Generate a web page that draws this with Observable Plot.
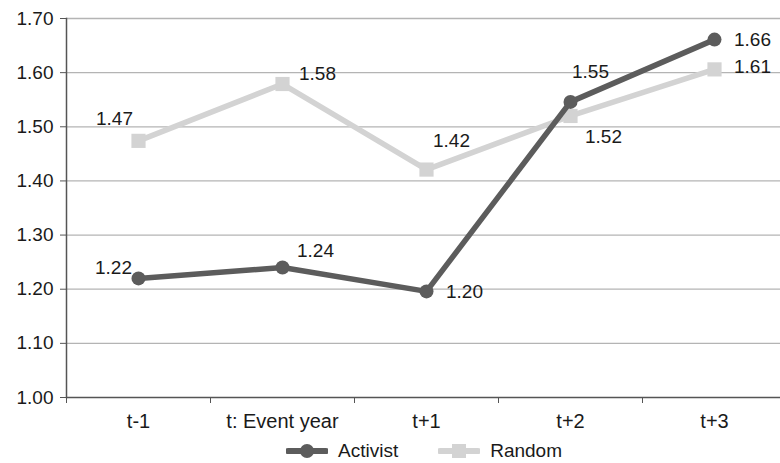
<!DOCTYPE html>
<html>
<head>
<meta charset="utf-8">
<script src="https://cdn.jsdelivr.net/npm/d3@7"></script>
<script src="https://cdn.jsdelivr.net/npm/@observablehq/plot@0.6"></script>
<style>
  html, body { margin: 0; padding: 0; background: #fff; }
  body { width: 780px; height: 463px; overflow: hidden; font-family: "Liberation Sans", Arial, sans-serif; }
  #legend { display: flex; justify-content: flex-start; align-items: center; height: 28px; font-size: 19px; color: #1a1a1a; }
  #legend .item { display: flex; align-items: center; }
</style>
</head>
<body>
<div id="chart"></div>
<div id="legend"></div>
<script>
// ---- data ----
const categories = ["t-1", "t: Event year", "t+1", "t+2", "t+3"];
const activist = [1.22, 1.24, 1.196, 1.546, 1.661];
const random = [1.474, 1.579, 1.421, 1.52, 1.606];
const activistLabels = ["1.22", "1.24", "1.20", "1.55", "1.66"];
const randomLabels = ["1.47", "1.58", "1.42", "1.52", "1.61"];
const yTicks = [1.0, 1.1, 1.2, 1.3, 1.4, 1.5, 1.6, 1.7];

// ---- layout / style ----
const colors = {Activist: "#5c5c5c", Random: "#d3d3d3"};
const labelOffsets = {
  Activist: [[-25, -10], [33, -17], [38, 1], [20, -30], [38, 0]],
  Random: [[-24, -22], [35, -10], [25, -29], [33, 21], [38, -2]]
};

const rows = [];
categories.forEach((c, i) => {
  rows.push({series: "Random", i, value: random[i], label: randomLabels[i]});
});
categories.forEach((c, i) => {
  rows.push({series: "Activist", i, value: activist[i], label: activistLabels[i]});
});
const act = rows.filter(d => d.series === "Activist");
const rnd = rows.filter(d => d.series === "Random");

const centers = categories.map((c, i) => i);
const bounds = d3.range(categories.length + 1).map(i => i - 0.5);

const textMarks = rows.map(d => Plot.text([d], {
  x: "i", y: "value", text: "label",
  dx: labelOffsets[d.series][d.i][0], dy: labelOffsets[d.series][d.i][1],
  fontSize: 19, fill: "#1a1a1a"
}));

const plot = Plot.plot({
  width: 780,
  height: 437,
  marginLeft: 66,
  marginRight: 0,
  marginTop: 18,
  marginBottom: 40,
  style: {fontFamily: "'Liberation Sans', Arial, sans-serif", fontSize: "19px", color: "#1a1a1a", background: "#fff", overflow: "visible"},
  x: {type: "linear", domain: [-0.5, categories.length - 0.5], range: [66, 786]},
  y: {domain: [1.0, 1.7]},
  marks: [
    Plot.ruleY(yTicks.slice(1), {stroke: "#b4b4b4", strokeWidth: 1.3}),
    Plot.ruleY([1.0], {stroke: "#555", strokeWidth: 1.5}),
    Plot.frame({anchor: "left", stroke: "#555", strokeWidth: 1.5}),
    Plot.axisY({ticks: yTicks, tickFormat: d => d.toFixed(2), tickSize: 6, tickPadding: 7, stroke: "#555", label: null, fontSize: 19}),
    Plot.axisX({ticks: bounds, tickFormat: () => "", tickSize: 6, stroke: "#555", label: null}),
    Plot.axisX({ticks: centers, tickFormat: i => categories[i], tickSize: 0, tickPadding: 16, label: null, fontSize: 20}),
    Plot.line(rnd, {x: "i", y: "value", stroke: colors.Random, strokeWidth: 5.5}),
    Plot.dot(rnd, {x: "i", y: "value", symbol: "square", r: 8, fill: colors.Random}),
    Plot.line(act, {x: "i", y: "value", stroke: colors.Activist, strokeWidth: 5.5}),
    Plot.dot(act, {x: "i", y: "value", symbol: "circle", r: 7, fill: colors.Activist}),
    ...textMarks
  ]
});
document.getElementById("chart").appendChild(plot);

// ---- legend ----
const legend = document.getElementById("legend");
legend.style.paddingLeft = "286px";
[["Activist", "circle"], ["Random", "square"]].forEach(([name, sym], k) => {
  const item = document.createElement("div");
  item.className = "item";
  if (k > 0) item.style.marginLeft = "40px";
  const c = colors[name];
  const marker = sym === "circle"
    ? `<circle cx="21" cy="10" r="7" fill="${c}"/>`
    : `<rect x="14" y="3" width="14" height="14" fill="${c}"/>`;
  item.innerHTML = `<svg width="42" height="20" style="margin-right:10px"><line x1="2" x2="40" y1="10" y2="10" stroke="${c}" stroke-width="6" stroke-linecap="round"/>${marker}</svg><span>${name}</span>`;
  legend.appendChild(item);
});
</script>
</body>
</html>
